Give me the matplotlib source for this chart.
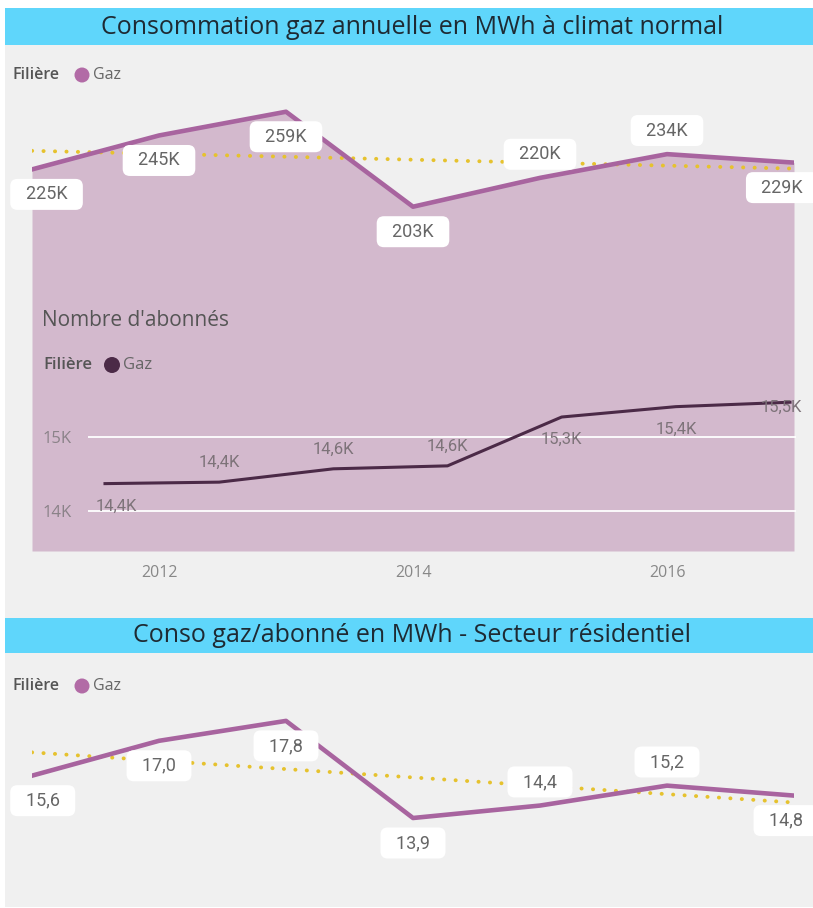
import matplotlib
matplotlib.use("Agg")
import matplotlib.pyplot as plt
from matplotlib.patches import Rectangle, Circle
import numpy as np

# ---------------- data ----------------
years = [2011, 2012, 2013, 2014, 2015, 2016, 2017]
conso_mwh = [225000, 245000, 259000, 203000, 220000, 234000, 229000]
abonnes = [14370, 14390, 14570, 14610, 15270, 15410, 15470]
conso_par_abonne = [15.6, 17.0, 17.8, 13.9, 14.4, 15.2, 14.8]
year_ticks = [2012, 2014, 2016]
abonnes_ticks = [14000, 15000]
abonnes_tick_labels = ["14K", "15K"]

title_top = "Consommation gaz annuelle en MWh à climat normal"
title_bottom = "Conso gaz/abonné en MWh - Secteur résidentiel"
title_inset = "Nombre d'abonnés"
legend_field = "Filière"
legend_series = "Gaz"

# label placement (style)
place_top = ["below", "below", "below", "below", "above", "above", "below"]
place_inset = ["below", "above", "above", "above", "below", "below", "on"]
place_bottom = ["below", "below", "below", "below", "above", "above", "below"]

# ---------------- style ----------------
W, H = 813, 908
BG = "#f0f0f0"
BAR = "#5fd6fb"
AREA = "#d3b9cd"
LINE = "#a8649f"
DOT = "#b26ba6"
DARK = "#4b2a47"
TREND = "#e6c22e"
LBL = "#666666"
UI = "Open Sans"
NUM = "Roboto"

fig = plt.figure(figsize=(W / 100, H / 100), dpi=100)
fig.patch.set_facecolor("white")


def rect(x0, y0, x1, y1):
    return [x0 / W, 1 - y1 / H, (x1 - x0) / W, (y1 - y0) / H]


# background (pixel coords)
bg = fig.add_axes([0, 0, 1, 1], zorder=-10)
bg.set_xlim(0, W)
bg.set_ylim(H, 0)
bg.axis("off")
bg.add_patch(Rectangle((5, 8), W - 5, 610, color=BG, lw=0))
bg.add_patch(Rectangle((5, 653), W - 5, 907 - 653, color=BG, lw=0))
bg.add_patch(Rectangle((5, 8), W - 5, 37, color=BAR, lw=0))
bg.add_patch(Rectangle((5, 618), W - 5, 35, color=BAR, lw=0))
bg.text(412, 27, title_top, ha="center", va="center", fontsize=18,
        family=UI, color="#1e2a33")
bg.text(412, 636, title_bottom, ha="center", va="center", fontsize=18,
        family=UI, color="#1e2a33")

for ly in (75, 686):
    bg.text(12, ly, legend_field, ha="left", va="center", fontsize=11.5,
            family=UI, fontweight="semibold", color="#555555")
    bg.add_patch(Circle((82, ly), 7.5, color=DOT, lw=0))
    bg.text(93, ly, legend_series, ha="left", va="center", fontsize=11.5,
            family=UI, color="#666666")

x_idx = np.arange(len(years))


def trend(ax, x, y):
    k, b = np.polyfit(x, y, 1)
    ax.plot(x, k * np.asarray(x) + b, color=TREND, lw=2.8,
            linestyle=(0, (0.05, 2.9)), dash_capstyle="round", zorder=2)


def box_labels(ax, xs, ys, texts, places, fs=13):
    n = len(xs)
    for i, (x, y, s, p) in enumerate(zip(xs, ys, texts, places)):
        dy = 17 if p == "above" else -18
        dx, ha = 0, "center"
        if i == 0:
            dx, ha = -11, "left"
        elif i == n - 1:
            dx, ha = 13, "right"
        ax.annotate("  " + s + "  ", (x, y), xytext=(dx, dy),
                    textcoords="offset points", ha=ha, va="center",
                    fontsize=fs, family=NUM, color=LBL, zorder=5,
                    annotation_clip=False,
                    bbox=dict(boxstyle="round,pad=0.36,rounding_size=0.4",
                              fc="white", ec="none"))


# ---------------- top chart (area) ----------------
px_per_k = 1.696
ax1 = fig.add_axes(rect(32, 90, 794, 551), zorder=0)
ax1.set_facecolor("none")
ax1.set_xlim(years[0], years[-1])
ax1.set_ylim(0, (551 - 90) / px_per_k * 1000)
ax1.fill_between(years, conso_mwh, 0, color=AREA, lw=0, zorder=1)
ax1.plot(years, conso_mwh, color=LINE, lw=3.3, solid_joinstyle="round", zorder=3)
trend(ax1, years, conso_mwh)
for s in ax1.spines.values():
    s.set_visible(False)
ax1.set_yticks([])
ax1.set_xticks(year_ticks)
ax1.set_xticklabels([str(y) for y in year_ticks], fontsize=11.5, family=UI,
                    color="#888888")
ax1.tick_params(axis="x", length=0, pad=10)
box_labels(ax1, years, conso_mwh, [f"{v/1000:.0f}K" for v in conso_mwh], place_top)

# ---------------- inset (Nombre d'abonnés) ----------------
x0p, x1p = 88, 796
pts0, pts1 = 105, 790
u = (pts1 - pts0) / 6
ax2 = fig.add_axes(rect(x0p, 380, x1p, 540), zorder=1)
ax2.set_facecolor("none")
ax2.set_xlim(-(pts0 - x0p) / u, 6 + (x1p - pts1) / u)
ppk = 74.0
ax2.set_ylim(14000 - (540 - 511) / ppk * 1000, 15000 + (437 - 380) / ppk * 1000)
for s in ax2.spines.values():
    s.set_visible(False)
ax2.set_xticks([])
ax2.set_yticks(abonnes_ticks)
ax2.set_yticklabels(abonnes_tick_labels, fontsize=12, family=UI, color="#8a8288")
for lab in ax2.get_yticklabels():
    lab.set_horizontalalignment("left")
ax2.tick_params(axis="y", length=0, pad=33)
ax2.grid(axis="y", color="white", lw=1.3)
ax2.set_axisbelow(True)
ax2.plot(x_idx, abonnes, color=DARK, lw=2.2, zorder=3)
for i, (x, y, p) in enumerate(zip(x_idx, abonnes, place_inset)):
    s = f"{y/1000:.1f}K".replace(".", ",")
    if p == "above":
        dy, ha, dx = 14, "center", 0
    elif p == "below":
        dy, ha, dx = -16, "center", 0
    else:
        dy, ha, dx = -4, "right", 9
    if i == 0:
        ha, dx = "left", -7
    ax2.annotate(s, (x, y), xytext=(dx, dy), textcoords="offset points",
                 ha=ha, va="center", fontsize=12, family=NUM,
                 color="#7d7379", zorder=4, annotation_clip=False)

over = fig.add_axes([0, 0, 1, 1], zorder=2)
over.set_xlim(0, W)
over.set_ylim(H, 0)
over.axis("off")
over.text(42, 321, title_inset, ha="left", va="center", fontsize=15,
          family=UI, color="#555555")
over.text(43, 365, legend_field, ha="left", va="center", fontsize=12,
          family=UI, fontweight="semibold", color="#555555")
over.add_patch(Circle((112, 365), 8, color=DARK, lw=0))
over.text(123, 365, legend_series, ha="left", va="center", fontsize=12,
          family=UI, color="#666666")

# ---------------- bottom chart ----------------
ppu = 24.9
ax3 = fig.add_axes(rect(32, 700, 794, 900), zorder=0)
ax3.set_facecolor("none")
ax3.set_xlim(0, 6)
ax3.set_ylim(13.9 - (900 - 818) / ppu, 13.9 + (818 - 700) / ppu)
ax3.axis("off")
ax3.plot(x_idx, conso_par_abonne, color=LINE, lw=3.3, zorder=3)
trend(ax3, x_idx, conso_par_abonne)
box_labels(ax3, x_idx, conso_par_abonne,
           [f"{v:.1f}".replace(".", ",") for v in conso_par_abonne], place_bottom)

fig.savefig("out.png", dpi=100, facecolor=fig.get_facecolor())
